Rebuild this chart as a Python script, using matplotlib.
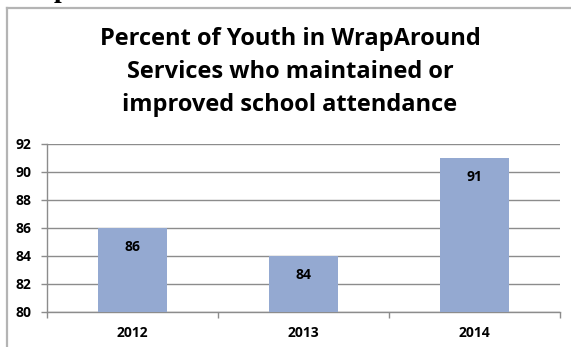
import matplotlib
matplotlib.use("Agg")
import matplotlib.pyplot as plt
from matplotlib.lines import Line2D

years = ["2012", "2013", "2014"]
percent = [86, 84, 91]
y_ticks = [80, 82, 84, 86, 88, 90, 92]
title = "Percent of Youth in WrapAround\nServices who maintained or\nimproved school attendance"

W, H, DPI = 571, 347, 100
fig = plt.figure(figsize=(W / DPI, H / DPI), dpi=DPI)
fig.patch.set_facecolor("white")

def px_x(x):
    return x / W

def px_y(y):
    return 1 - y / H

# chart frame (top and left edges visible)
frame_col = "#b4b4b4"
fig.add_artist(Line2D([px_x(7), 1.0], [px_y(8), px_y(8)], color=frame_col, lw=1.6,
                      transform=fig.transFigure))
fig.add_artist(Line2D([px_x(7), px_x(7)], [px_y(8), 0.0], color=frame_col, lw=1.6,
                      transform=fig.transFigure))

# heading glyph peeking in above the frame
fig.text(px_x(54), px_y(-3), "p", fontsize=20, fontweight="bold",
         family="Liberation Serif", ha="left", va="baseline", color="black")

ax = fig.add_axes([px_x(47), px_y(312), px_x(560) - px_x(47), px_y(144) - px_y(312)])

bar_col = "#94a9d1"
x = range(len(years))
ax.bar(x, percent, width=0.4, color=bar_col, zorder=3)

ax.set_xlim(-0.5, len(years) - 0.5)
ax.set_ylim(80, 92)
ax.set_yticks(y_ticks)
ax.set_yticklabels([str(v) for v in y_ticks])

grid_col = "#8c8c8c"
ax.yaxis.grid(True, color=grid_col, lw=1.0, zorder=0)
ax.set_axisbelow(True)

for s in ["top", "right"]:
    ax.spines[s].set_visible(False)
for s in ["left", "bottom"]:
    ax.spines[s].set_color(grid_col)
    ax.spines[s].set_linewidth(1.0)

ax.tick_params(axis="y", length=4, width=1.0, color=grid_col, pad=7)
ax.set_xticks([i + 0.5 for i in range(-1, len(years))], minor=False)
ax.set_xticklabels([""] * (len(years) + 1))
ax.tick_params(axis="x", length=4, width=1.0, color=grid_col)
ax.set_xticks(list(x), minor=True)
ax.set_xticklabels(years, minor=True)
ax.tick_params(axis="x", which="minor", length=0, pad=10)

tick_font = dict(family="Open Sans", fontweight="bold", fontsize=10)
for lab in ax.get_yticklabels() + ax.get_xticklabels(minor=True):
    lab.set_fontfamily("Open Sans")
    lab.set_fontweight("bold")
    lab.set_fontsize(10)

for i, v in enumerate(percent):
    ax.annotate(str(v), (i, v), xytext=(0, -14), textcoords="offset points",
                ha="center", va="center", **tick_font)

fig.text(px_x(290), px_y(72), title, ha="center", va="center", family="Open Sans",
         fontweight="bold", fontsize=17, linespacing=1.52)

fig.savefig("out.png", dpi=DPI, facecolor="white")
